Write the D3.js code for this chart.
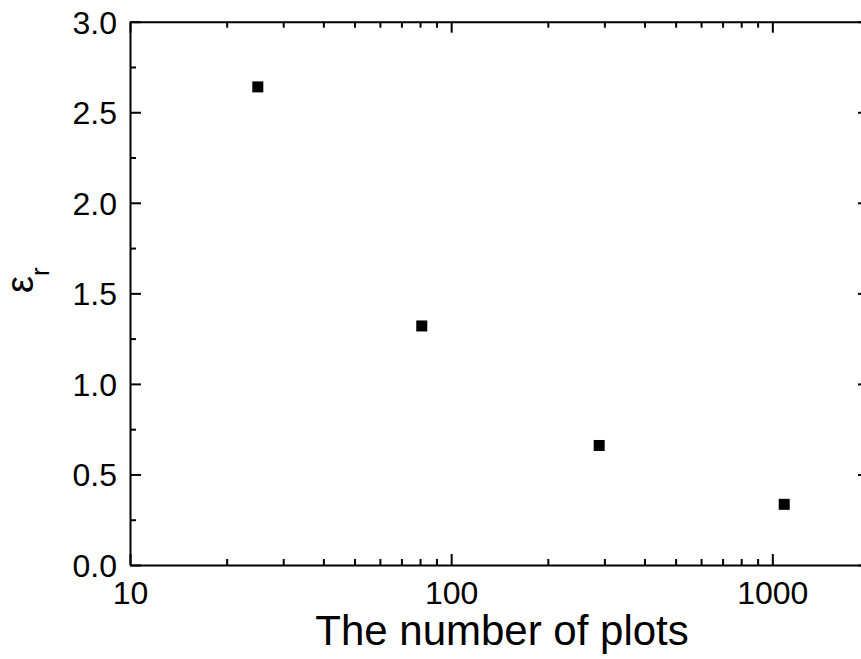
<!DOCTYPE html>
<html>
<head>
<meta charset="utf-8">
<script src="https://cdn.jsdelivr.net/npm/d3@7"></script>
<style>
  html, body { margin: 0; padding: 0; background: #fff; }
  svg { display: block; font-family: "Liberation Sans", Arial, sans-serif; }
</style>
</head>
<body>
<svg id="chart"></svg>
<script>
// data
const plots = [25, 81, 289, 1089];
const epsR = [2.64, 1.32, 0.66, 0.335];

const xMajor = [10, 100, 1000];
const xMinor = [20, 30, 40, 50, 60, 70, 80, 90, 200, 300, 400, 500, 600, 700, 800, 900];
const yMajor = [0, 0.5, 1.0, 1.5, 2.0, 2.5, 3.0];
const yMinor = [0.25, 0.75, 1.25, 1.75, 2.25, 2.75];

const width = 861;
const height = 659;
const padLeft = 130, padRight = 869, padTop = 21.7, padBottom = 565;

const svg = d3.select('#chart')
  .attr('width', width)
  .attr('height', height);

const x = d3.scaleLog()
  .domain([10, 2000])
  .range([padLeft, padRight]);

const y = d3.scaleLinear()
  .domain([0, 3])
  .range([padBottom, padTop]);

const fmtY = d3.format('.1f');

function styleAxis(g) {
  g.selectAll('path').attr('stroke', '#000').attr('stroke-width', 2);
  g.selectAll('line').attr('stroke', '#000').attr('stroke-width', 2);
  g.selectAll('text').attr('fill', '#000').attr('font-size', 32);
}

// bottom
svg.append('g')
  .attr('transform', `translate(0, ${padBottom})`)
  .call(d3.axisBottom(x).tickValues(xMajor).tickFormat(d3.format('d'))
    .tickSizeInner(-11).tickSizeOuter(0).tickPadding(16))
  .call(styleAxis);
svg.append('g')
  .attr('transform', `translate(0, ${padBottom})`)
  .call(d3.axisBottom(x).tickValues(xMinor).tickFormat('')
    .tickSizeInner(-6).tickSizeOuter(0))
  .call(styleAxis)
  .select('.domain').remove();

// top
svg.append('g')
  .attr('transform', `translate(0, ${padTop})`)
  .call(d3.axisTop(x).tickValues(xMajor).tickFormat('')
    .tickSizeInner(-11).tickSizeOuter(0))
  .call(styleAxis);
svg.append('g')
  .attr('transform', `translate(0, ${padTop})`)
  .call(d3.axisTop(x).tickValues(xMinor).tickFormat('')
    .tickSizeInner(-6).tickSizeOuter(0))
  .call(styleAxis)
  .select('.domain').remove();

// left
const yAxisG = svg.append('g')
  .attr('transform', `translate(${padLeft}, 0)`)
  .call(d3.axisLeft(y).tickValues(yMajor).tickFormat(fmtY)
    .tickSizeInner(-11).tickSizeOuter(0).tickPadding(13))
  .call(styleAxis);
yAxisG.selectAll('text').attr('dy', '0.36em');
svg.append('g')
  .attr('transform', `translate(${padLeft}, 0)`)
  .call(d3.axisLeft(y).tickValues(yMinor).tickFormat('')
    .tickSizeInner(-6).tickSizeOuter(0))
  .call(styleAxis)
  .select('.domain').remove();

// right
svg.append('g')
  .attr('transform', `translate(${padRight}, 0)`)
  .call(d3.axisRight(y).tickValues(yMajor).tickFormat('')
    .tickSizeInner(-11).tickSizeOuter(0))
  .call(styleAxis);
svg.append('g')
  .attr('transform', `translate(${padRight}, 0)`)
  .call(d3.axisRight(y).tickValues(yMinor).tickFormat('')
    .tickSizeInner(-6).tickSizeOuter(0))
  .call(styleAxis)
  .select('.domain').remove();

// points
const data = plots.map((p, i) => ({ p: p, e: epsR[i] }));
const size = 11;
svg.append('g')
  .selectAll('rect')
  .data(data)
  .enter()
  .append('rect')
  .attr('x', d => x(d.p) - size / 2)
  .attr('y', d => y(d.e) - size / 2)
  .attr('width', size)
  .attr('height', size)
  .attr('fill', '#000');

// axis titles
svg.append('text')
  .attr('x', 502)
  .attr('y', 645)
  .attr('text-anchor', 'middle')
  .attr('font-size', 42)
  .attr('fill', '#000')
  .text('The number of plots');

const yTitle = svg.append('text')
  .attr('transform', 'translate(33, 293) rotate(-90)')
  .attr('text-anchor', 'start')
  .attr('font-size', 38)
  .attr('fill', '#000');
yTitle.append('tspan').text('ε');
yTitle.append('tspan')
  .attr('font-size', 26)
  .attr('dy', 16)
  .text('r');
</script>
</body>
</html>
